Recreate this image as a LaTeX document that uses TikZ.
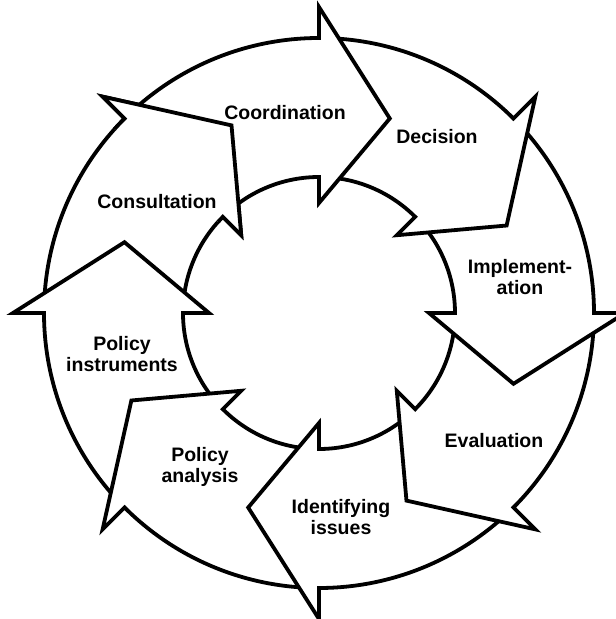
\documentclass[tikz,border=0pt]{standalone}
\usepackage{fontspec}
\setmainfont{Liberation Sans}
\begin{document}
\begin{tikzpicture}[
  arrowline/.style={draw=black, line width=3.8pt, line join=miter, miter limit=10},
  arrowshape/.style={arrowline, fill=white},
  lbl/.style={font=\bfseries\fontsize{19.5}{21}\selectfont, align=center, inner sep=0pt, text=black}
]
\useasboundingbox (-319pt,-306pt) rectangle (297pt,313pt);
% arrows, drawn so that every head lies over the tail of the next one
\foreach \b in {135,180,225,270,315,360,405,450}{
  \pgfmathsetmacro{\t}{\b+43}
  \pgfmathsetmacro{\tip}{\b-20}
  \path[arrowshape] (\t:275pt) arc[start angle=\t, end angle=\b, radius=275pt]
    -- (\b:306pt) -- (\tip:207pt) -- (\b:110pt) -- (\b:136pt)
    arc[start angle=\b, end angle=\t, radius=136pt] -- cycle;
}
% head of the last arrow (Consultation) over the tail of the first (Coordination)
\fill[white] (138:275pt) arc[start angle=138, end angle=135, radius=275pt]
  -- (135:306pt) -- (115:207pt) -- (135:110pt) -- (135:136pt)
  arc[start angle=135, end angle=138, radius=136pt] -- cycle;
\draw[arrowline] (138:275pt) arc[start angle=138, end angle=135, radius=275pt]
  -- (135:306pt) -- (115:207pt) -- (135:110pt) -- (135:136pt)
  arc[start angle=135, end angle=138, radius=136pt];
% labels
\node[lbl] (coord) at (-34pt,200pt) {Coordination};
\node[lbl] (dec) at (118pt,176.5pt) {Decision};
\node[lbl] (impl) at (201pt,35.5pt) {Implement-\\ation};
\node[lbl] (eval) at (175pt,-127.5pt) {Evaluation};
\node[lbl] (ident) at (22pt,-204.5pt) {Identifying\\issues};
\node[lbl] (anal) at (-119pt,-154pt) {Policy\\analysis};
\node[lbl] (instr) at (-197pt,-41.5pt) {Policy\\instruments};
\node[lbl] (cons) at (-162pt,111pt) {Consultation};
\end{tikzpicture}
\end{document}
